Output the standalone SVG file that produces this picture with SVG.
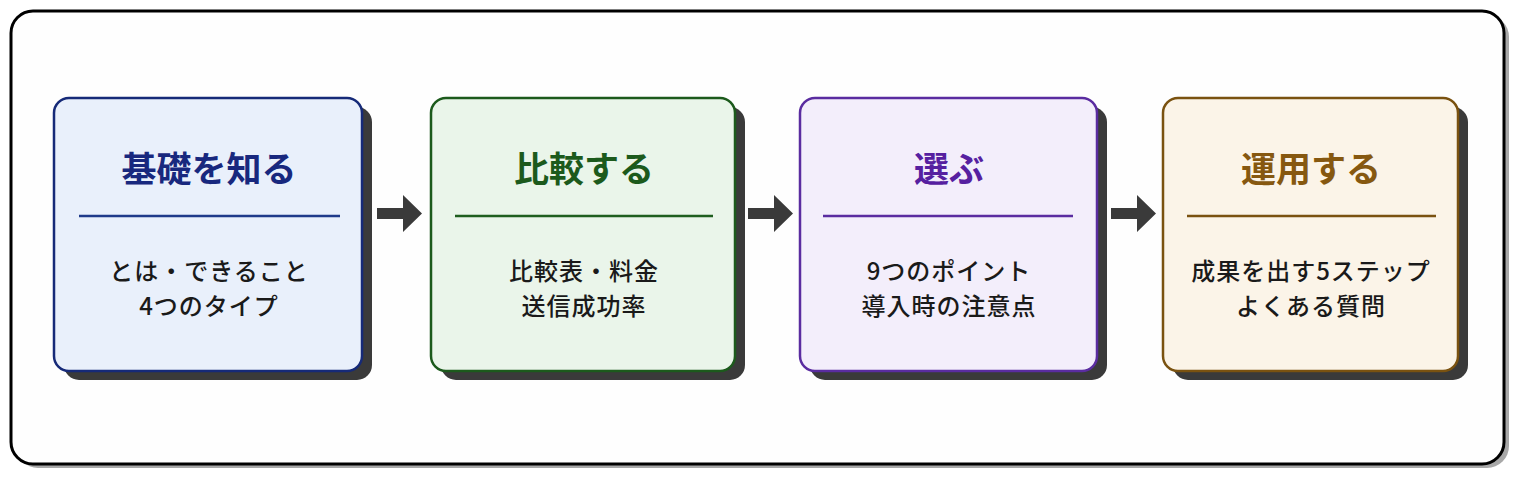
<svg xmlns="http://www.w3.org/2000/svg" width="1520" height="481" viewBox="0 0 1520 481">
<defs>
<style>
.title{font-family:"Noto Sans CJK JP","Noto Sans",sans-serif;font-weight:700;font-size:35px;text-anchor:middle;dominant-baseline:central}
.sub{font-family:"Noto Sans CJK JP","Noto Sans",sans-serif;font-weight:500;font-size:24px;letter-spacing:1px;text-anchor:middle;dominant-baseline:central;fill:#1a1a1a}
.shadow{fill:#3a3a3a}
.box{stroke-width:2.5}
.div{stroke-width:2.5}
.arrow{fill:#3a3a3a}
</style>
</defs>
<rect x="0" y="0" width="1520" height="481" fill="#ffffff"/>
<g id="frame">
<rect x="16" y="15" width="1493" height="453" rx="22" fill="#a8a8a8"/>
<rect x="11" y="11" width="1493" height="453" rx="22" fill="#fefefe" stroke="#000" stroke-width="3"/>
</g>
<g id="node1">
<rect class="shadow" x="64" y="107" width="308" height="273" rx="15"/>
<rect class="box" x="54" y="98" width="308" height="273" rx="15" fill="#e9f0fb" stroke="#162a78"/>
<text class="title" x="209" y="166" fill="#18287e">基礎を知る</text>
<line class="div" x1="79" y1="216" x2="340" y2="216" stroke="#1f3a8a"/>
<text class="sub" x="209" y="269">とは・できること</text>
<text class="sub" x="209" y="304">4つのタイプ</text>
</g>
<g id="node2">
<rect class="shadow" x="441" y="107" width="304" height="273" rx="15"/>
<rect class="box" x="431" y="98" width="304" height="273" rx="15" fill="#eaf5ea" stroke="#1c5a1c"/>
<text class="title" x="584" y="166" fill="#1c5a1c">比較する</text>
<line class="div" x1="455" y1="216" x2="713" y2="216" stroke="#1e5e1e"/>
<text class="sub" x="584" y="269">比較表・料金</text>
<text class="sub" x="584" y="304">送信成功率</text>
</g>
<g id="node3">
<rect class="shadow" x="810" y="107" width="297" height="273" rx="15"/>
<rect class="box" x="800" y="98" width="297" height="273" rx="15" fill="#f3eefb" stroke="#5a2ca0"/>
<text class="title" x="949" y="166" fill="#5620a0">選ぶ</text>
<line class="div" x1="823" y1="216" x2="1073" y2="216" stroke="#5a2ca0"/>
<text class="sub" x="949" y="269">9つのポイント</text>
<text class="sub" x="949" y="304">導入時の注意点</text>
</g>
<g id="node4">
<rect class="shadow" x="1173" y="107" width="295" height="273" rx="15"/>
<rect class="box" x="1163" y="98" width="295" height="273" rx="15" fill="#fbf4e8" stroke="#7a5210"/>
<text class="title" x="1311" y="166" fill="#865810">運用する</text>
<line class="div" x1="1187" y1="216" x2="1436" y2="216" stroke="#7a5210"/>
<text class="sub" x="1311" y="269">成果を出す5ステップ</text>
<text class="sub" x="1311" y="304">よくある質問</text>
</g>
<g id="connectors">
<polygon class="arrow" points="377,208 403,208 403,195 422,213.5 403,232 403,219 377,219"/>
<polygon class="arrow" points="748,208 774,208 774,195 793,213.5 774,232 774,219 748,219"/>
<polygon class="arrow" points="1111,208 1137,208 1137,195 1156,213.5 1137,232 1137,219 1111,219"/>
</g>
</svg>
